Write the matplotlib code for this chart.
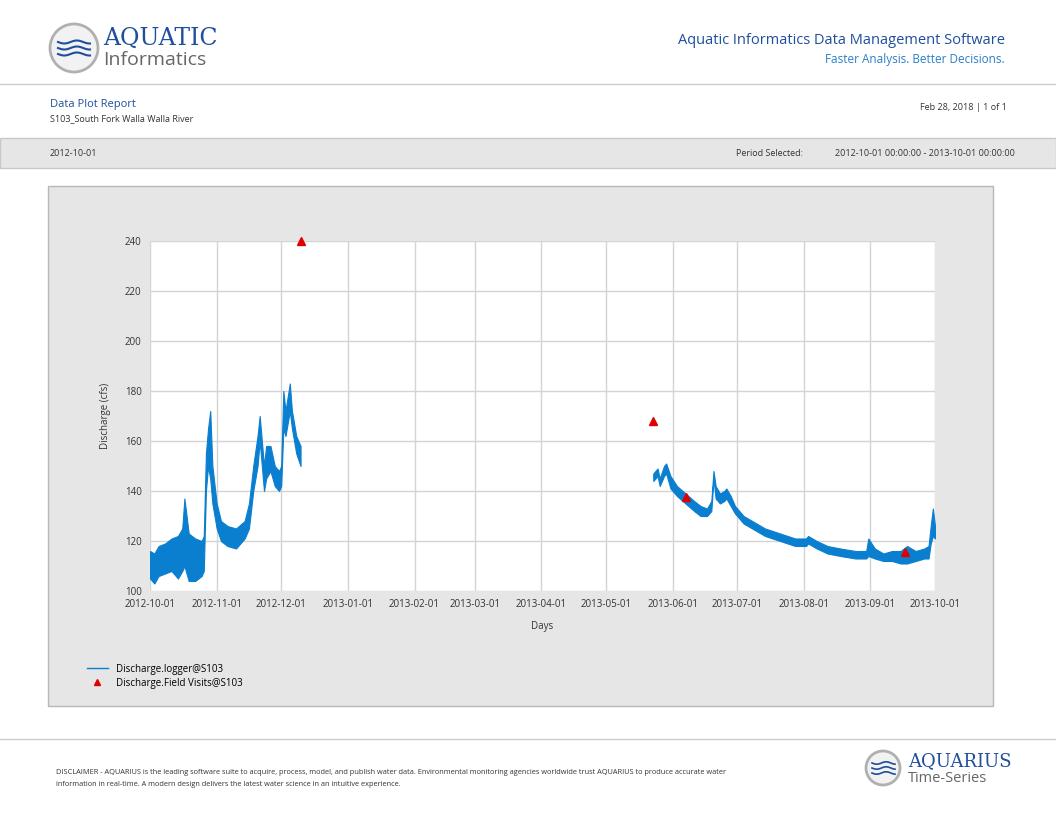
import matplotlib
matplotlib.use("Agg")
import matplotlib.pyplot as plt
from matplotlib.patches import Rectangle, Circle
from matplotlib.lines import Line2D
import numpy as np
import datetime as dt

plt.rcParams['font.family'] = ['Open Sans', 'DejaVu Sans']

start = dt.date(2012, 10, 1)
# segment 1: day offset, low, high
seg1_day = [0, 2, 4, 7, 10, 13, 15, 16, 18, 21, 24, 25, 26, 27, 28, 29, 31, 33, 36, 40, 44, 46, 48, 50, 51, 52, 53, 54, 56, 58, 60, 61, 62, 63, 65, 66, 68, 70]
seg1_lo = [105, 103, 106, 107, 108, 105, 108, 110, 104, 104, 106, 108, 140, 150, 145, 135, 125, 120, 118, 117, 121, 125, 140, 150, 160, 150, 140, 145, 148, 142, 140, 142, 165, 162, 172, 165, 155, 150]
seg1_hi = [116, 115, 118, 119, 121, 122, 125, 137, 123, 121, 120, 122, 155, 165, 172, 150, 135, 128, 126, 125, 128, 135, 150, 162, 170, 160, 150, 158, 158, 150, 148, 150, 180, 172, 183, 172, 162, 158]
# segment 2
seg2_day = [234, 236, 237, 239, 240, 242, 245, 249, 253, 256, 259, 261, 262, 263, 265, 267, 268, 270, 272, 276, 280, 286, 293, 300, 305, 306, 310, 315, 321, 328, 333, 334, 337, 341, 345, 349, 352, 356, 360, 362, 363, 364, 365]
seg2_lo = [144, 146, 142, 146, 147, 141, 138, 135, 132, 130, 130, 132, 145, 137, 135, 136, 137, 134, 131, 127, 125, 122, 120, 118, 118, 119, 117, 115, 114, 113, 113, 114, 113, 112, 112, 111, 111, 112, 113, 113, 119, 122, 121]
seg2_hi = [147, 149, 145, 150, 151, 146, 142, 139, 136, 134, 133, 136, 148, 142, 139, 140, 141, 138, 134, 130, 128, 125, 123, 121, 121, 122, 120, 118, 117, 116, 116, 121, 117, 115, 116, 116, 118, 116, 117, 118, 126, 133, 126]
visit_day = [70, 234, 249, 351]
visit_val = [240, 168, 137.5, 115.8]
tick_labels = ["2012-10-01", "2012-11-01", "2012-12-01", "2013-01-01", "2013-02-01", "2013-03-01",
               "2013-04-01", "2013-05-01", "2013-06-01", "2013-07-01", "2013-08-01", "2013-09-01", "2013-10-01"]

def to_dates(days):
    return [start + dt.timedelta(days=d) for d in days]

W, H = 1056, 816
fig = plt.figure(figsize=(W/100, H/100), dpi=100)
bg = fig.add_axes([0, 0, 1, 1]); bg.set_xlim(0, W); bg.set_ylim(H, 0); bg.axis('off')

# header
bg.add_patch(Circle((74, 48), 24, fc='#f2f2f2', ec='#b0b0b0', lw=2))
for k in range(3):
    xs = np.linspace(58, 90, 40)
    bg.plot(xs, 42 + k*6 + 1.5*np.sin((xs-58)/4), color='#1f4e9c', lw=1.5)
bg.text(103, 38, "AQUATIC", fontsize=17, color='#1f4e9c', va='center', family='DejaVu Serif')
bg.text(103, 60, "Informatics", fontsize=14, color='#666666', va='center')
bg.text(1005, 41, "Aquatic Informatics Data Management Software", fontsize=10.5, color='#1f4e9c', ha='right', va='center')
bg.text(1005, 60, "Faster Analysis. Better Decisions.", fontsize=8.5, color='#2a7fc8', ha='right', va='center')
bg.plot([0, W], [84, 84], color='#cccccc', lw=1)
bg.text(50, 104, "Data Plot Report", fontsize=8, color='#1f4e9c', va='center')
bg.text(50, 119, "S103_South Fork Walla Walla River", fontsize=6.5, color='#333333', va='center')
bg.text(1007, 107, "Feb 28, 2018 | 1 of 1", fontsize=6.5, color='#333333', ha='right', va='center')
bg.add_patch(Rectangle((0, 138), W, 30, fc='#e6e6e6', ec='#c8c8c8', lw=1))
bg.text(50, 153, "2012-10-01", fontsize=6.5, color='#333333', va='center')
bg.text(803, 153, "Period Selected:", fontsize=6.5, color='#333333', ha='right', va='center')
bg.text(1015, 153, "2012-10-01 00:00:00 - 2013-10-01 00:00:00", fontsize=6.5, color='#333333', ha='right', va='center')
bg.add_patch(Rectangle((48, 186), 945, 520, fc='#e6e6e6', ec='#b8b8b8', lw=1))
bg.plot([0, W], [739, 739], color='#cccccc', lw=1)
bg.text(56, 773, "DISCLAIMER - AQUARIUS is the leading software suite to acquire, process, model, and publish water data. Environmental monitoring agencies worldwide trust AQUARIUS to produce accurate water",
        fontsize=5.3, color='#333333', va='center')
bg.text(56, 785, "information in real-time. A modern design delivers the latest water science in an intuitive experience.",
        fontsize=5.3, color='#333333', va='center')
bg.add_patch(Circle((883, 768), 17, fc='#f2f2f2', ec='#b0b0b0', lw=2))
for k in range(3):
    xs = np.linspace(872, 895, 30)
    bg.plot(xs, 763 + k*5 + 1.2*np.sin((xs-872)/3), color='#1f4e9c', lw=1.2)
bg.text(908, 761, "AQUARIUS", fontsize=13, color='#1f4e9c', va='center', family='DejaVu Serif')
bg.text(908, 779, "Time-Series", fontsize=10.5, color='#666666', va='center')

# chart
ax = fig.add_axes([150/W, 1-591/H, 785/W, 350/H])
ax.set_facecolor('white')
blue = '#0a7fd0'
for d, lo, hi in [(seg1_day, seg1_lo, seg1_hi), (seg2_day, seg2_lo, seg2_hi)]:
    dd = to_dates(d)
    ax.fill_between(dd, lo, hi, color=blue, lw=0.8, ec=blue)
ax.plot(to_dates(visit_day), visit_val, '^', color='#e00000', ms=6, clip_on=False, zorder=5)
ticks = [dt.date.fromisoformat(t) for t in tick_labels]
ax.set_xlim(ticks[0], ticks[-1])
ax.set_ylim(100, 240)
ax.set_xticks(ticks); ax.set_xticklabels(tick_labels, fontsize=7, color='#333333')
ax.set_yticks(range(100, 241, 20)); ax.tick_params(axis='y', labelsize=7, colors='#333333')
ax.tick_params(length=0, pad=6)
ax.grid(True, color='#d4d4d4', lw=1)
ax.set_axisbelow(True)
for s in ax.spines.values():
    s.set_visible(False)
ax.set_xlabel("Days", fontsize=7, color='#333333', labelpad=8)
ax.set_ylabel("Discharge (cfs)", fontsize=7, color='#333333', labelpad=10)

handles = [Line2D([], [], color=blue, lw=1), Line2D([], [], marker='^', color='#e00000', ls='', ms=5)]
fig.legend(handles, ["Discharge.logger@S103", "Discharge.Field Visits@S103"], loc='upper left',
           bbox_to_anchor=(78/W, 1-655/H), frameon=False, fontsize=7, handlelength=2.2, labelspacing=0.3)

fig.savefig("out.png", dpi=100)
